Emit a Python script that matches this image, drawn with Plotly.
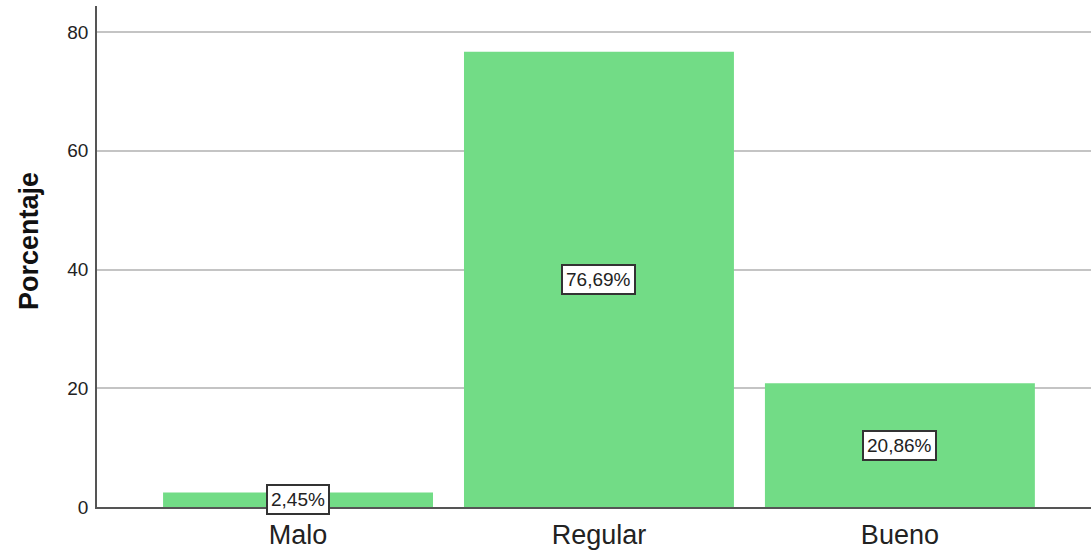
import plotly.graph_objects as go

categories = ["Malo", "Regular", "Bueno"]
percentages = [2.45, 76.69, 20.86]
value_labels = ["2,45%", "76,69%", "20,86%"]
y_ticks = [0, 20, 40, 60, 80]

bar_color = "#72DC86"
font_family = "Liberation Sans, Arial, sans-serif"

fig = go.Figure()
fig.add_trace(go.Bar(
    x=categories,
    y=percentages,
    marker=dict(color=bar_color, line=dict(width=0)),
    width=0.897,
    hoverinfo="skip",
))

# boxed value labels placed at half the bar height
for cat, val, lab in zip(categories, percentages, value_labels):
    fig.add_annotation(
        x=cat, y=val / 2, xref="x", yref="y",
        text=lab, showarrow=False,
        font=dict(family=font_family, size=19, color="#222222"),
        bgcolor="white", bordercolor="#333333", borderwidth=2, borderpad=3,
    )

# rotated y-axis title
fig.add_annotation(
    x=-0.0684, y=0.531, xref="paper", yref="paper",
    xanchor="center", yanchor="middle",
    text="<b>Porcentaje</b>", textangle=-90, showarrow=False,
    font=dict(family=font_family, size=27, color="#111111"),
)

fig.update_layout(
    width=1091, height=557,
    margin=dict(l=97, r=0, t=6, b=50),
    plot_bgcolor="white", paper_bgcolor="white",
    showlegend=False,
    font=dict(family=font_family),
    xaxis=dict(
        range=[-0.668, 2.635],
        showline=True, linecolor="#555555", linewidth=1.5,
        showgrid=False, ticks="",
        tickfont=dict(size=27, color="#222222"),
        ticklabelstandoff=3,
        fixedrange=True,
    ),
    yaxis=dict(
        range=[0, 84.4],
        tickvals=y_ticks,
        showline=True, linecolor="#555555", linewidth=1.5,
        showgrid=True, gridcolor="#c4c4c4", gridwidth=1.5,
        zeroline=False, ticks="",
        tickfont=dict(size=19, color="#222222"),
        ticklabelstandoff=3,
        fixedrange=True,
    ),
)

fig.write_html("out.html")
